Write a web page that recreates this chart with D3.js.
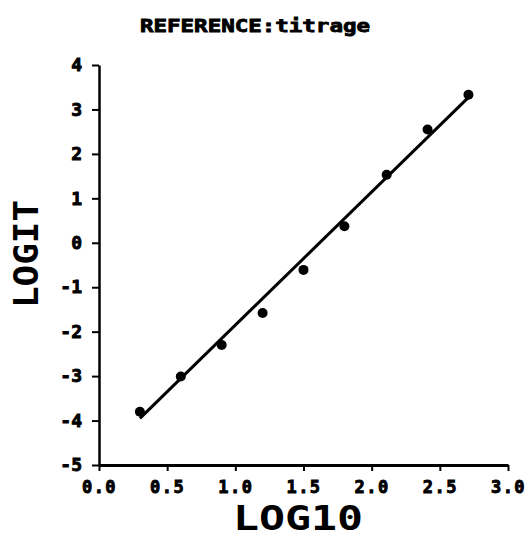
<!DOCTYPE html>
<html>
<head>
<meta charset="utf-8">
<script src="https://cdn.jsdelivr.net/npm/d3@7"></script>
<style>
  html, body { margin: 0; padding: 0; background: #fff; }
  svg { display: block; }
  text { font-family: "DejaVu Sans Mono", "Liberation Mono", monospace; font-weight: bold; fill: #000; }
</style>
</head>
<body>
<svg id="chart" width="532" height="539"></svg>
<script>
// ---- data ----
const title = "REFERENCE:titrage";
const xLabel = "LOG10";
const yLabel = "LOGIT";
const log10Values = [0.30, 0.60, 0.90, 1.20, 1.50, 1.80, 2.11, 2.41, 2.71];
const logitValues = [-3.80, -3.01, -2.30, -1.58, -0.61, 0.37, 1.53, 2.55, 3.33];
const fitX = [0.30, 2.71];
const fitY = [-3.95, 3.27];
const xTicks = [0.0, 0.5, 1.0, 1.5, 2.0, 2.5, 3.0];
const yTicks = [4, 3, 2, 1, 0, -1, -2, -3, -4, -5];

// ---- layout ----
const svg = d3.select("#chart");
const x = d3.scaleLinear().domain([0, 3]).range([99, 508]);
const y = d3.scaleLinear().domain([-5, 4]).range([465, 65]);

// title
svg.append("text")
  .attr("x", 255).attr("y", 32)
  .attr("text-anchor", "middle")
  .attr("font-size", 17)
  .attr("stroke", "#000").attr("stroke-width", 0.8)
  .attr("textLength", 230).attr("lengthAdjust", "spacingAndGlyphs")
  .text(title);

// x axis
const xAxis = svg.append("g")
  .attr("transform", `translate(0,${y(-5)})`)
  .call(d3.axisBottom(x).tickValues(xTicks).tickFormat(d3.format(".1f")).tickSize(6).tickSizeOuter(0).tickPadding(10));
xAxis.select(".domain").attr("stroke", "#000").attr("stroke-width", 3);
xAxis.selectAll(".tick line").attr("stroke", "#000").attr("stroke-width", 2);
xAxis.selectAll(".tick text")
  .attr("font-size", 17)
  .attr("font-family", "'DejaVu Sans Mono', monospace")
  .attr("font-weight", "bold")
  .attr("letter-spacing", 1.5)
  .attr("stroke", "#000").attr("stroke-width", 0.9)
  .attr("fill", "#000");

// y axis
const yAxis = svg.append("g")
  .attr("transform", `translate(${x(0)},0)`)
  .call(d3.axisLeft(y).tickValues(yTicks).tickFormat(d3.format("d")).tickSize(7).tickSizeOuter(0).tickPadding(10));
yAxis.select(".domain").attr("stroke", "#000").attr("stroke-width", 2.5);
yAxis.selectAll(".tick line").attr("stroke", "#000").attr("stroke-width", 2);
yAxis.selectAll(".tick text")
  .attr("font-size", 18)
  .attr("font-family", "'DejaVu Sans Mono', monospace")
  .attr("font-weight", "bold")
  .attr("stroke", "#000").attr("stroke-width", 0.9)
  .attr("fill", "#000")
  .text(d => d < 0 ? "-" + Math.abs(d) : d);

// axis titles
svg.append("text")
  .attr("x", 298).attr("y", 530)
  .attr("text-anchor", "middle")
  .attr("font-size", 34)
  .attr("textLength", 130).attr("lengthAdjust", "spacingAndGlyphs")
  .text(xLabel);

svg.append("text")
  .attr("transform", "translate(38,254) rotate(-90)")
  .attr("text-anchor", "middle")
  .attr("font-size", 34)
  .attr("textLength", 108).attr("lengthAdjust", "spacingAndGlyphs")
  .text(yLabel);

// fitted line
const line = d3.line().x(d => x(d[0])).y(d => y(d[1]));
svg.append("path")
  .datum(d3.zip(fitX, fitY))
  .attr("d", line)
  .attr("fill", "none")
  .attr("stroke", "#000")
  .attr("stroke-width", 3);

// points
svg.append("g").selectAll("circle")
  .data(d3.zip(log10Values, logitValues))
  .join("circle")
  .attr("cx", d => x(d[0]))
  .attr("cy", d => y(d[1]))
  .attr("r", 5)
  .attr("fill", "#000");
</script>
</body>
</html>
